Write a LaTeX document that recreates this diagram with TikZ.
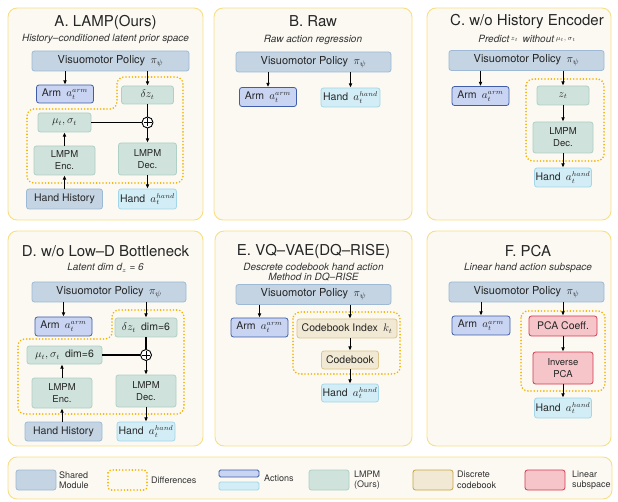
\documentclass[tikz,border=0pt]{standalone}
\usepackage{fontspec}
\setmainfont{TeX Gyre Heros}
\usetikzlibrary{arrows.meta}

\definecolor{panelfill}{HTML}{FBF9F2}
\definecolor{panelline}{HTML}{F8DF84}
\definecolor{sharedfill}{HTML}{C4D4E3}
\definecolor{sharedline}{HTML}{9DB9D5}
\definecolor{armfill}{HTML}{C8D4F2}
\definecolor{armline}{HTML}{3F5DA8}
\definecolor{handfill}{HTML}{D2EDF6}
\definecolor{handline}{HTML}{A3D6E8}
\definecolor{lmpmfill}{HTML}{CFE2DC}
\definecolor{lmpmline}{HTML}{AED0C5}
\definecolor{codefill}{HTML}{F2E9D4}
\definecolor{codeline}{HTML}{DCC58A}
\definecolor{codelegend}{HTML}{C9A441}
\definecolor{pcafill}{HTML}{F5C5CA}
\definecolor{pcaline}{HTML}{D63A4F}
\definecolor{diffline}{HTML}{F3B300}

\begin{document}
\begin{tikzpicture}[x=1pt,y=-1pt,
  panel/.style={draw=panelline, fill=panelfill, line width=0.9pt, rounded corners=9pt},
  ptitle/.style={font=\fontsize{15}{18}\selectfont, text=black!85},
  psub/.style={font=\fontsize{10}{11}\selectfont\itshape, text=black!80, align=center},
  bx/.style={rounded corners=2.5pt, inner sep=0pt, line width=0.8pt, align=center,
    font=\fontsize{10.5}{12}\selectfont, text=black!85},
  shared/.style={bx, draw=sharedline, fill=sharedfill},
  policy/.style={shared, font=\fontsize{11}{13}\selectfont},
  arm/.style={bx, draw=armline, fill=armfill},
  hand/.style={bx, draw=handline, fill=handfill},
  lmpm/.style={bx, draw=lmpmline, fill=lmpmfill},
  lmpmtwo/.style={lmpm, font=\fontsize{9.5}{12}\selectfont},
  code/.style={bx, draw=codeline, fill=codefill},
  pca/.style={bx, draw=pcaline, fill=pcafill},
  pcatwo/.style={pca, font=\fontsize{9.5}{12}\selectfont},
  diff/.style={draw=diffline, line width=1.8pt, line cap=round,
    dash pattern=on 0pt off 3.2pt, rounded corners=7pt},
  arr/.style={-{Latex[length=4.2pt,width=3.8pt]}, line width=0.9pt},
  link/.style={line width=1.6pt},
  oplus/.style={circle, draw, fill=white, minimum size=11pt, inner sep=0pt, line width=0.9pt,
    path picture={\draw[line width=0.8pt]
      ([yshift=-1.5pt]path picture bounding box.north) -- ([yshift=1.5pt]path picture bounding box.south)
      ([xshift=1.5pt]path picture bounding box.west) -- ([xshift=-1.5pt]path picture bounding box.east);}},
  lgtext/.style={font=\fontsize{9}{10.5}\selectfont, text=black!80, align=left, anchor=west, inner sep=0pt}
]
\useasboundingbox (0,0) rectangle (618,502);

% ---------- panels ----------
\draw[panel] (8,8) rectangle (203,220);
\draw[panel] (214,8) rectangle (412,220);
\draw[panel] (427,8) rectangle (611,220);
\draw[panel] (8,231) rectangle (203,446);
\draw[panel] (215,231) rectangle (412,446);
\draw[panel] (427,231) rectangle (611,446);
\draw[panel] (8,457) rectangle (612,499);

% ---------- A. LAMP ----------
\node[ptitle] (tA) at (105.5,22) {A. LAMP(Ours)};
\node[psub] (sA) at (105.5,38.5) {History–conditioned latent prior space};
\draw[diff] (27,183) -- (27,109) -- (117,109) -- (117,77) -- (183,77) -- (183,183) -- cycle;
\node[policy, minimum width=157, minimum height=20] (pA) at (110.5,61) {Visuomotor Policy\enspace$\pi_\psi$};
\node[arm, minimum width=57, minimum height=18] (armA) at (65,94) {Arm\enspace$a_t^{arm}$};
\node[lmpm, minimum width=52, minimum height=18] (dzA) at (147.5,95) {$\delta z_t$};
\node[lmpm, minimum width=53, minimum height=19] (muA) at (64.5,122.5) {$\mu_t,\sigma_t$};
\node[oplus] (plA) at (147.5,122.5) {};
\node[lmpmtwo, minimum width=61, minimum height=29] (encA) at (64.5,160.5) {LMPM\\Enc.};
\node[lmpmtwo, minimum width=58, minimum height=32] (decA) at (147.5,159) {LMPM\\Dec.};
\node[shared, minimum width=76, minimum height=20] (histA) at (64.5,199) {Hand History};
\node[hand, minimum width=58, minimum height=20] (handA) at (147.5,199) {Hand\enspace$a_t^{hand}$};
\draw[arr] (pA.south -| armA.north) -- (armA.north);
\draw[arr] (pA.south -| dzA.north) -- (dzA.north);
\draw[link] (dzA.south) -- (plA.north);
\draw[link] (muA.east) -- (plA.west);
\draw[arr] (plA.south) -- (decA.north);
\draw[arr] (encA.north) -- (muA.south);
\draw[arr] (histA.north) -- (encA.south);
\draw[arr] (decA.south) -- (handA.north);

% ---------- B. Raw ----------
\node[ptitle] (tB) at (313,21) {B. Raw};
\node[psub] (sB) at (313,40) {Raw action regression};
\node[policy, minimum width=155, minimum height=20] (pB) at (313.5,62) {Visuomotor Policy\enspace$\pi_\psi$};
\node[arm, minimum width=57, minimum height=19] (armB) at (268,97) {Arm\enspace$a_t^{arm}$};
\node[hand, minimum width=59, minimum height=19] (handB) at (350.5,97.5) {Hand\enspace$a_t^{hand}$};
\draw[arr] (pB.south -| armB.north) -- (armB.north);
\draw[arr] (pB.south -| handB.north) -- (handB.north);

% ---------- C. w/o History Encoder ----------
\node[ptitle] (tC) at (527,22) {C. w/o History Encoder};
\node[psub] (sC) at (527,39) {Predict\,\raisebox{2.5pt}{\scriptsize$z_t$}\, without\,\raisebox{2.5pt}{\scriptsize$\mu_t,\sigma_t$}};
\draw[diff] (526,79) rectangle (604,161);
\node[policy, minimum width=155, minimum height=20] (pC) at (526.5,60.5) {Visuomotor Policy\enspace$\pi_\psi$};
\node[arm, minimum width=57, minimum height=19] (armC) at (480.5,96) {Arm\enspace$a_t^{arm}$};
\node[lmpm, minimum width=52, minimum height=19] (zC) at (563,95.5) {$z_t$};
\node[lmpmtwo, minimum width=60, minimum height=31] (decC) at (563,137.5) {LMPM\\Dec.};
\node[hand, minimum width=57, minimum height=19] (handC) at (563,177.5) {Hand\enspace$a_t^{hand}$};
\draw[arr] (pC.south -| armC.north) -- (armC.north);
\draw[arr] (pC.south -| zC.north) -- (zC.north);
\draw[arr] (zC.south) -- (decC.north);
\draw[arr] (decC.south) -- (handC.north);

% ---------- D. w/o Low-D Bottleneck ----------
\node[ptitle] (tD) at (105.5,251) {D. w/o Low–D Bottleneck};
\node[psub] (sD) at (105.5,268) {Latent dim d$_z$ = 6};
\draw[diff] (18,414) -- (18,339) -- (112,339) -- (112,310) -- (184,310) -- (184,414) -- cycle;
\node[policy, minimum width=154, minimum height=20] (pD) at (109,292) {Visuomotor Policy\enspace$\pi_\psi$};
\node[arm, minimum width=57, minimum height=19] (armD) at (63.5,326.5) {Arm\enspace$a_t^{arm}$};
\node[lmpm, minimum width=62, minimum height=19] (dzD) at (146,327.5) {$\delta z_t$\enspace dim=6};
\node[lmpm, minimum width=75, minimum height=18] (muD) at (64.5,355) {$\mu_t,\sigma_t$\enspace dim=6};
\node[oplus] (plD) at (146,355) {};
\node[lmpmtwo, minimum width=60, minimum height=30] (encD) at (62,393) {LMPM\\Enc.};
\node[lmpmtwo, minimum width=60, minimum height=32] (decD) at (146,391) {LMPM\\Dec.};
\node[shared, minimum width=77, minimum height=19] (histD) at (63.5,431.5) {Hand History};
\node[hand, minimum width=58, minimum height=19] (handD) at (146,431.5) {Hand\enspace$a_t^{hand}$};
\draw[arr] (pD.south -| armD.north) -- (armD.north);
\draw[arr] (pD.south -| dzD.north) -- (dzD.north);
\draw[link] (dzD.south) -- (plD.north);
\draw[link] (muD.east) -- (plD.west);
\draw[arr] (plD.south) -- (decD.north);
\draw[arr] (encD.north) -- (encD.north |- muD.south);
\draw[arr] (histD.north -| encD.south) -- (encD.south);
\draw[arr] (decD.south) -- (handD.north);

% ---------- E. VQ-VAE ----------
\node[ptitle] (tE) at (313.5,251) {E. VQ–VAE(DQ–RISE)};
\node[psub] (sE) at (313.5,272) {Descrete codebook hand action\\[-1pt]Method in DQ–RISE};
\draw[diff] (293,312) rectangle (400,374);
\node[policy, minimum width=155, minimum height=20] (pE) at (313.5,294.5) {Visuomotor Policy\enspace$\pi_\psi$};
\node[arm, minimum width=57, minimum height=19] (armE) at (259.5,327.5) {Arm\enspace$a_t^{arm}$};
\node[code, minimum width=100, minimum height=19] (cbiE) at (347,328.5) {Codebook Index\enspace$k_t$};
\node[code, minimum width=57, minimum height=18] (cbE) at (350,360) {Codebook};
\node[hand, minimum width=57, minimum height=18] (handE) at (350,393) {Hand\enspace$a_t^{hand}$};
\draw[arr] (pE.south -| armE.north) -- (armE.north);
\draw[arr] (pE.south -| cbE.north) -- (cbE.north |- cbiE.north);
\draw[arr] (cbE.north |- cbiE.south) -- (cbE.north);
\draw[arr] (cbE.south) -- (handE.north);

% ---------- F. PCA ----------
\node[ptitle] (tF) at (528,251) {F. PCA};
\node[psub] (sF) at (528,268) {Linear hand action subspace};
\draw[diff] (521,311) rectangle (605,391);
\node[policy, minimum width=155, minimum height=20] (pF) at (526.5,292) {Visuomotor Policy\enspace$\pi_\psi$};
\node[arm, minimum width=58, minimum height=19] (armF) at (481,325.5) {Arm\enspace$a_t^{arm}$};
\node[pca, minimum width=68, minimum height=20] (coefF) at (563,326) {PCA Coeff.};
\node[pcatwo, minimum width=60, minimum height=32] (invF) at (563,368) {Inverse\\PCA};
\node[hand, minimum width=57, minimum height=20] (handF) at (563,408) {Hand\enspace$a_t^{hand}$};
\draw[arr] (pF.south -| armF.north) -- (armF.north);
\draw[arr] (pF.south -| coefF.north) -- (coefF.north);
\draw[arr] (coefF.south) -- (invF.north);
\draw[arr] (invF.south) -- (handF.north);

% ---------- legend ----------
\node[shared, minimum width=40, minimum height=20] (lgShared) at (36,480) {};
\node[lgtext] (lgSharedT) at (59,480) {Shared\\Module};
\draw[diff, rounded corners=3pt] (108,470) rectangle (147,490);
\coordinate (lgDiff) at (147,480);
\node[lgtext] (lgDiffT) at ([xshift=4pt]lgDiff) {Differences};
\node[arm, minimum width=40, minimum height=7, rounded corners=1.5pt] (lgArm) at (239,473.5) {};
\node[hand, minimum width=40, minimum height=8, rounded corners=1.5pt] (lgHand) at (239,486) {};
\node[lgtext] (lgActT) at (264,478) {Actions};
\node[lmpm, minimum width=40, minimum height=20] (lgLmpm) at (329,480) {};
\node[lgtext] (lgLmpmT) at (354,480) {LMPM\\(Ours)};
\node[code, draw=codelegend, minimum width=40, minimum height=20] (lgCode) at (433,480) {};
\node[lgtext] (lgCodeT) at (457,480) {Discrete\\codebook};
\node[pca, minimum width=40, minimum height=20] (lgPca) at (545,480) {};
\node[lgtext] (lgPcaT) at (572,480) {Linear\\subspace};
\end{tikzpicture}
\end{document}
